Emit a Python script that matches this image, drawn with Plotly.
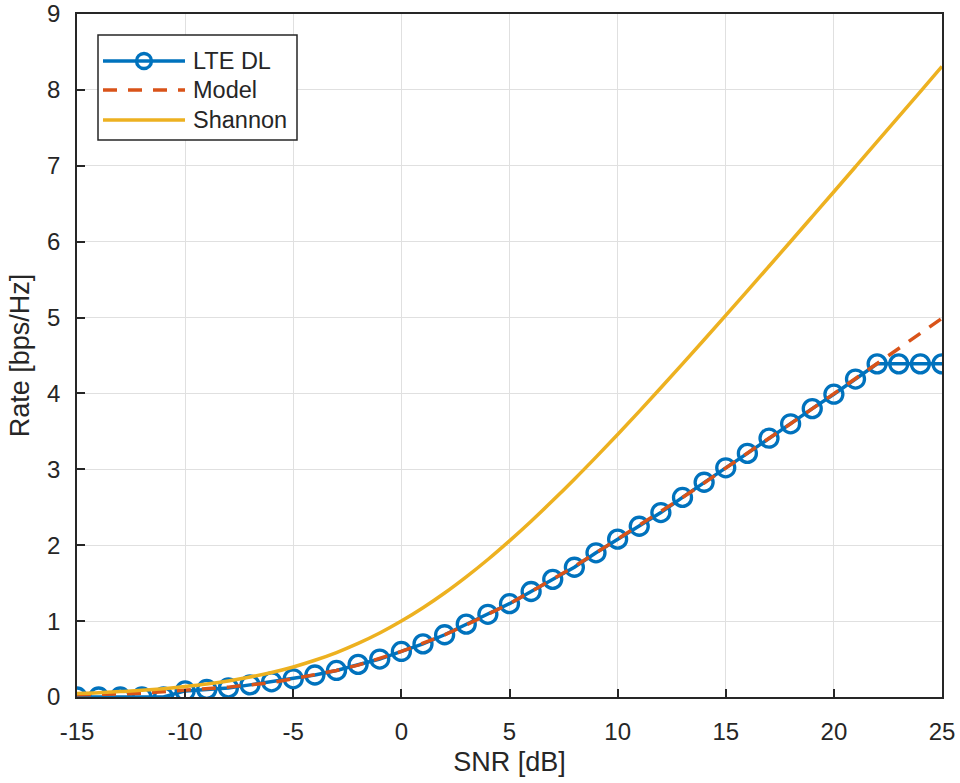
import plotly.graph_objects as go

snr = list(range(-15, 26))

lte_dl = [0.0, 0.0, 0.0, 0.0, 0.0, 0.08, 0.10, 0.12, 0.16, 0.20,
          0.24, 0.29, 0.35, 0.43, 0.50, 0.60, 0.70, 0.82, 0.96, 1.09,
          1.23, 1.39, 1.55, 1.71, 1.90, 2.08, 2.25, 2.43, 2.63, 2.83,
          3.02, 3.21, 3.41, 3.60, 3.80, 3.99, 4.19, 4.39, 4.39, 4.39, 4.39]

model = [0.03, 0.03, 0.04, 0.05, 0.07, 0.08, 0.10, 0.13, 0.16, 0.19,
         0.24, 0.29, 0.35, 0.42, 0.51, 0.60, 0.71, 0.82, 0.95, 1.09,
         1.23, 1.39, 1.55, 1.72, 1.90, 2.08, 2.26, 2.44, 2.63, 2.82,
         3.02, 3.21, 3.41, 3.60, 3.80, 3.99, 4.19, 4.39, 4.59, 4.79, 4.99]

shannon = [0.045, 0.056, 0.071, 0.088, 0.110, 0.138, 0.171, 0.212, 0.263, 0.323,
           0.396, 0.484, 0.586, 0.706, 0.843, 1.000, 1.176, 1.370, 1.583, 1.812,
           2.058, 2.317, 2.588, 2.870, 3.161, 3.459, 3.764, 4.075, 4.389, 4.707,
           5.028, 5.351, 5.676, 6.002, 6.330, 6.658, 6.987, 7.317, 7.648, 7.978, 8.309]

series_names = ["LTE DL", "Model", "Shannon"]
series_colors = ["#0072BD", "#D95319", "#EDB120"]
x_ticks = [-15, -10, -5, 0, 5, 10, 15, 20, 25]
x_tick_labels = ["-15", "-10", "-5", "0", "5", "10", "15", "20", "25"]
y_ticks = [0, 1, 2, 3, 4, 5, 6, 7, 8, 9]
y_tick_labels = ["0", "1", "2", "3", "4", "5", "6", "7", "8", "9"]

FONT = "Liberation Sans, Arial, sans-serif"
TXT = "#262626"
LW = 3.5

fig = go.Figure()
fig.add_trace(go.Scatter(
    x=snr, y=lte_dl, name=series_names[0], mode="lines+markers",
    line=dict(color=series_colors[0], width=LW),
    marker=dict(symbol="circle-open", size=18, color=series_colors[0],
                line=dict(width=3.3, color=series_colors[0]))))
fig.add_trace(go.Scatter(
    x=snr, y=model, name=series_names[1], mode="lines",
    line=dict(color=series_colors[1], width=LW, dash="14px,11px")))
fig.add_trace(go.Scatter(
    x=snr, y=shannon, name=series_names[2], mode="lines",
    line=dict(color=series_colors[2], width=LW, shape="spline")))

axis_common = dict(
    showline=True, linecolor=TXT, linewidth=1.5, mirror=True,
    ticks="inside", ticklen=8, tickcolor=TXT, tickwidth=1.5,
    showgrid=True, gridcolor="#e0e0e0", gridwidth=1, zeroline=False,
    tickfont=dict(family=FONT, size=24, color=TXT), automargin=False,
)

fig.update_xaxes(range=[-15, 25], tickvals=x_ticks, ticktext=x_tick_labels,
                 ticklabelstandoff=12,
                 title=dict(text="SNR [dB]", font=dict(family=FONT, size=27, color=TXT), standoff=9),
                 **axis_common)
fig.update_yaxes(range=[0, 9], tickvals=y_ticks, ticktext=y_tick_labels,
                 ticklabelstandoff=10,
                 title=dict(text="Rate [bps/Hz]", font=dict(family=FONT, size=27, color=TXT), standoff=10),
                 **axis_common)

# Legend drawn in MATLAB style (long sample lines)
L, R, T, B = 77, 942, 14, 697
def px(x):
    return (x - L) / (R - L)
def py(y):
    return (B - y) / (B - T)

shapes = [dict(type="rect", xref="paper", yref="paper",
               x0=px(98), x1=px(297), y0=py(140), y1=py(35),
               line=dict(color=TXT, width=1.5), fillcolor="white", layer="above")]
rows = [61, 90, 120]
dashes = ["solid", "14px,11px", "solid"]
for i, name in enumerate(series_names):
    shapes.append(dict(type="line", xref="paper", yref="paper",
                       x0=px(103), x1=px(185), y0=py(rows[i]), y1=py(rows[i]),
                       line=dict(color=series_colors[i], width=LW, dash=dashes[i]),
                       layer="above"))
shapes.append(dict(type="circle", xref="paper", yref="paper",
                   x0=px(144 - 7.5), x1=px(144 + 7.5), y0=py(61 + 7.5), y1=py(61 - 7.5),
                   line=dict(color=series_colors[0], width=3.3), fillcolor="rgba(0,0,0,0)",
                   layer="above"))
annotations = []
for i, name in enumerate(series_names):
    annotations.append(dict(text=name, xref="paper", yref="paper",
                            x=px(191), y=py(rows[i]), xanchor="left", yanchor="middle",
                            showarrow=False, font=dict(family=FONT, size=23.5, color=TXT)))

fig.update_layout(
    width=960, height=783,
    margin=dict(l=L, r=960 - R, t=T, b=783 - B, autoexpand=False),
    plot_bgcolor="white", paper_bgcolor="white",
    showlegend=False,
    shapes=shapes, annotations=annotations,
)

fig.write_html("out.html")
